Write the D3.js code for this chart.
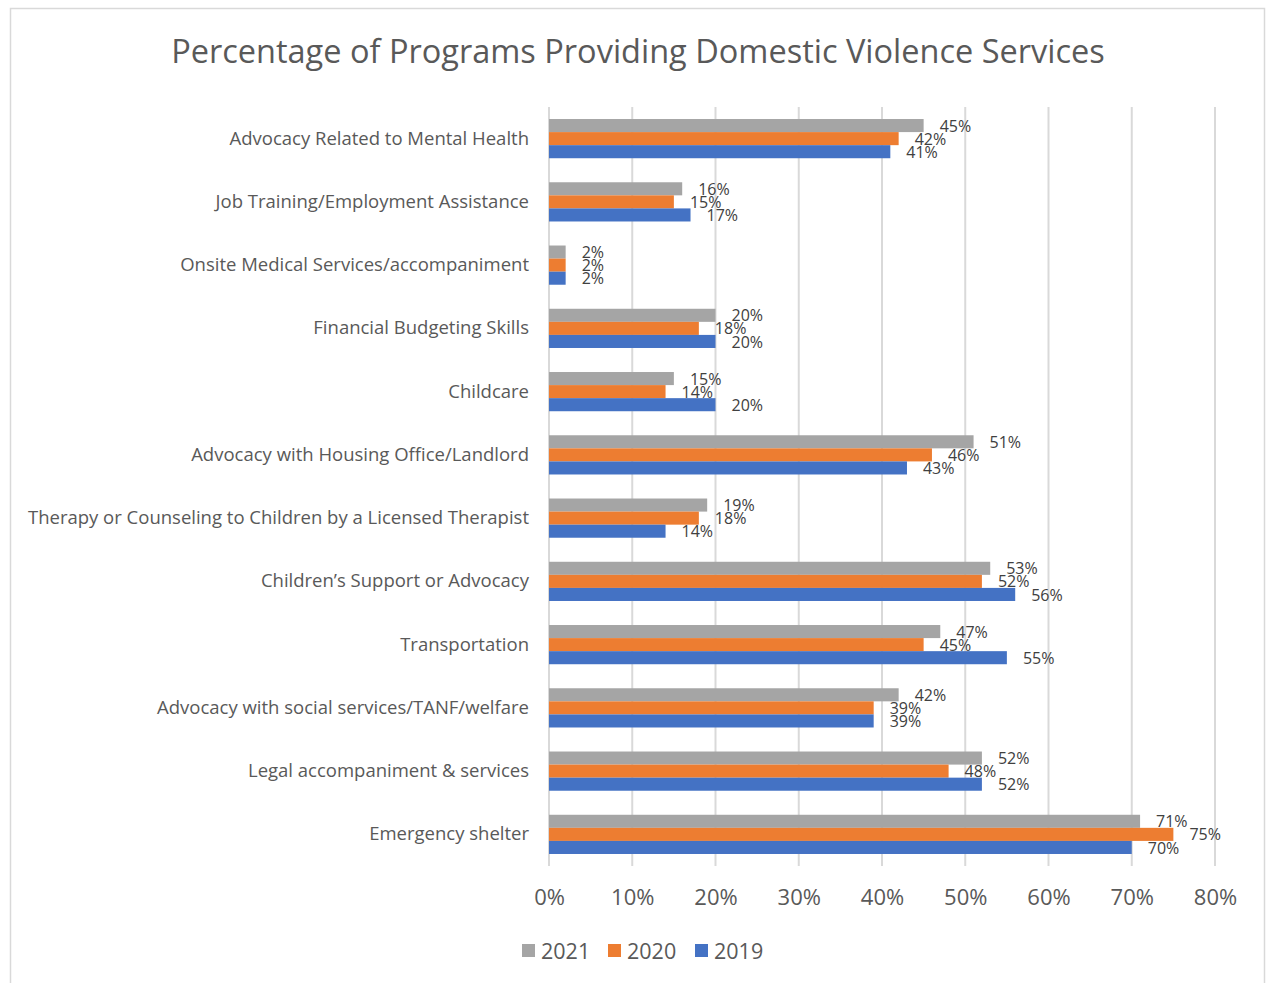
<!DOCTYPE html>
<html>
<head>
<meta charset="utf-8">
<script src="https://cdn.jsdelivr.net/npm/d3@7"></script>
<style>
  body { margin: 0; background: #fff; }
  text { font-family: "Open Sans", "Noto Sans", sans-serif; }
</style>
</head>
<body>
<svg id="chart" width="1266" height="983"></svg>
<script>
// categories top to bottom
var categories = [
  "Advocacy Related to Mental Health",
  "Job Training/Employment Assistance",
  "Onsite Medical Services/accompaniment",
  "Financial Budgeting Skills",
  "Childcare",
  "Advocacy with Housing Office/Landlord",
  "Therapy or Counseling to Children by a Licensed Therapist",
  "Children\u2019s Support or Advocacy",
  "Transportation",
  "Advocacy with social services/TANF/welfare",
  "Legal accompaniment & services",
  "Emergency shelter"
];
var years = ["2021", "2020", "2019"];
var values2021 = [45, 16, 2, 20, 15, 51, 19, 53, 47, 42, 52, 71];
var values2020 = [42, 15, 2, 18, 14, 46, 18, 52, 45, 39, 48, 75];
var values2019 = [41, 17, 2, 20, 20, 43, 14, 56, 55, 39, 52, 70];
var xTicks = [0, 10, 20, 30, 40, 50, 60, 70, 80];

var colors = { "2021": "#A5A5A5", "2020": "#ED7D31", "2019": "#4472C4" };
var seriesValues = { "2021": values2021, "2020": values2020, "2019": values2019 };

var svg = d3.select("#chart");

// chart border
svg.append("rect")
    .attr("x", 10.5).attr("y", 8.5)
    .attr("width", 1254).attr("height", 1000)
    .attr("fill", "none")
    .attr("stroke", "#D9D9D9")
    .attr("stroke-width", 1.5);

// title
svg.append("text")
    .attr("x", 638).attr("y", 63)
    .attr("text-anchor", "middle")
    .attr("fill", "#595959")
    .style("font-size", "32.5px")
    .text("Percentage of Programs Providing Domestic Violence Services");

var margin = { top: 107, left: 549, right: 1215, bottom: 866 };

var x = d3.scaleLinear()
    .domain([0, 80])
    .range([margin.left, margin.right]);

var y = d3.scaleBand()
    .domain(categories)
    .range([margin.top, margin.bottom])
    .paddingInner(0.38)
    .paddingOuter(0.19);

var yInner = d3.scaleBand()
    .domain(years)
    .range([0, y.bandwidth()]);

// gridlines
svg.append("g")
    .selectAll("line")
    .data(xTicks)
    .enter().append("line")
    .attr("x1", function(d) { return x(d); })
    .attr("x2", function(d) { return x(d); })
    .attr("y1", margin.top)
    .attr("y2", margin.bottom)
    .attr("stroke", "#D9D9D9")
    .attr("stroke-width", 2);

// x axis labels
var xAxis = svg.append("g")
    .attr("transform", "translate(0," + margin.bottom + ")")
    .call(d3.axisBottom(x).tickValues(xTicks).tickSize(0).tickPadding(23)
          .tickFormat(function(d) { return d + "%"; }));
xAxis.select(".domain").remove();
xAxis.selectAll("text")
    .attr("fill", "#595959")
    .style("font-size", "22px")
    .style("font-family", "'Open Sans', 'Noto Sans', sans-serif");

// category labels
var yAxis = svg.append("g")
    .attr("transform", "translate(" + (margin.left - 20) + ",0)")
    .call(d3.axisLeft(y).tickSize(0).tickPadding(0));
yAxis.select(".domain").remove();
yAxis.selectAll("text")
    .attr("fill", "#595959")
    .style("font-size", "18.5px")
    .style("font-family", "'Open Sans', 'Noto Sans', sans-serif");

// bars
var groups = svg.append("g")
    .selectAll("g")
    .data(categories)
    .enter().append("g")
    .attr("transform", function(d) { return "translate(0," + y(d) + ")"; });

groups.selectAll("rect")
    .data(function(d, i) {
      return years.map(function(yr) { return { year: yr, value: seriesValues[yr][i] }; });
    })
    .enter().append("rect")
    .attr("x", x(0))
    .attr("y", function(d) { return yInner(d.year); })
    .attr("width", function(d) { return x(d.value) - x(0); })
    .attr("height", yInner.bandwidth())
    .attr("fill", function(d) { return colors[d.year]; });

// data labels
groups.selectAll("text")
    .data(function(d, i) {
      return years.map(function(yr) { return { year: yr, value: seriesValues[yr][i] }; });
    })
    .enter().append("text")
    .attr("x", function(d) { return x(d.value) + 16; })
    .attr("y", function(d) { return yInner(d.year) + yInner.bandwidth() / 2 + 0.5; })
    .attr("dy", "0.35em")
    .attr("fill", "#404040")
    .style("font-size", "16px")
    .text(function(d) { return d.value + "%"; });

// legend
var legendX = [522, 608, 695];
var legend = svg.append("g")
    .selectAll("g")
    .data(years)
    .enter().append("g")
    .attr("transform", function(d, i) { return "translate(" + legendX[i] + ",944)"; });
legend.append("rect")
    .attr("width", 13).attr("height", 13)
    .attr("fill", function(d) { return colors[d]; });
legend.append("text")
    .attr("x", 19).attr("y", 7)
    .attr("dy", "0.35em")
    .attr("fill", "#595959")
    .style("font-size", "21.5px")
    .text(function(d) { return d; });
</script>
</body>
</html>
